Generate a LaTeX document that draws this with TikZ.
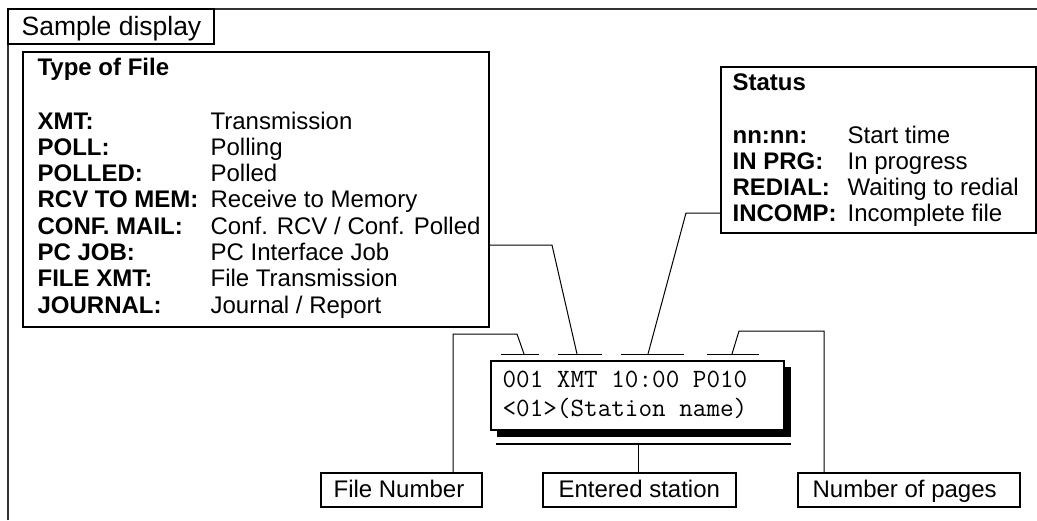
\documentclass[tikz,border=0pt]{standalone}
\usepackage{fontspec}
\setmainfont{Liberation Sans}
\begin{document}
\begin{tikzpicture}[x=1pt,y=-1pt, line width=1.2pt,
  frame/.style={draw, inner sep=0pt, outer sep=0pt, anchor=north west},
  lbl/.style={anchor=base west, inner sep=0pt, font=\fontsize{24}{27}\selectfont},
  key/.style={anchor=base west, inner sep=0pt, font=\fontsize{24}{27}\selectfont\bfseries},
  mono/.style={anchor=base west, inner sep=0pt, font=\ttfamily\fontsize{26.4}{28}\selectfont},
  link/.style={draw, line width=1pt},
  tick/.style={draw, line width=1pt}]
\useasboundingbox (0,0) rectangle (1037,520);

% outer frame (top and left only)
\draw[line width=1.6pt, black!80] (8,520) -- (8,9) -- (1037,9);

% Sample display tab
\node[frame, minimum width=206pt, minimum height=35pt] (sample) at (8,9) {};
\node[lbl, font=\fontsize{26.5}{29}\selectfont] (sampletxt) at (21,35) {Sample display};

% Type of File box
\node[frame, minimum width=466pt, minimum height=275pt] (typebox) at (23,52) {};
\node[key] (typetitle) at (37,75) {Type of File};
\foreach \k/\v [count=\i from 0] in {{XMT:}/{Transmission}, {POLL:}/{Polling}, {POLLED:}/{Polled}, {RCV TO MEM:}/{Receive to Memory}, {CONF. MAIL:}/{Conf. RCV / Conf. Polled}, {PC JOB:}/{PC Interface Job}, {FILE XMT:}/{File Transmission}, {JOURNAL:}/{Journal / Report}}{
  \node[key] (tk\i) at (37,129+26.3*\i) {\k};
  \node[lbl] (tv\i) at (210,129+26.3*\i) {\v};
}

% Status box
\node[frame, minimum width=315pt, minimum height=166pt] (statbox) at (721,67) {};
\node[key] (stattitle) at (732,90) {Status};
\foreach \k/\v [count=\i from 0] in {{nn:nn:}/{Start time}, {IN PRG:}/{In progress}, {REDIAL:}/{Waiting to redial}, {INCOMP:}/{Incomplete file}}{
  \node[key] (sk\i) at (732,143+26.3*\i) {\k};
  \node[lbl] (sv\i) at (847,143+26.3*\i) {\v};
}

% Display with shadow
\fill (497,367) rectangle (791,437);
\node[frame, fill=white, minimum width=293pt, minimum height=69pt] (disp) at (491,361) {};
\node[mono] (line1) at (502,387) {001 XMT 10:00 P010};
\node[mono] (line2) at (502,416) {<01>(Station name)};
\coordinate (ulA) at (496,444);
\coordinate (ulB) at (791,444);
\draw[line width=2pt] (ulA) -- (ulB);

% ticks over the display fields
\coordinate (t1a) at (501,354); \coordinate (t1b) at (539,354);
\coordinate (t2a) at (558,354); \coordinate (t2b) at (602,354);
\coordinate (t3a) at (621,354); \coordinate (t3b) at (684,354);
\coordinate (t4a) at (707,354); \coordinate (t4b) at (759,354);
\draw[tick] (t1a) -- (t1b);
\draw[tick] (t2a) -- (t2b);
\draw[tick] (t3a) -- (t3b);
\draw[tick] (t4a) -- (t4b);

% bottom label boxes
\node[frame, minimum width=161pt, minimum height=34pt] (filenum) at (321,473) {};
\node[lbl] (filenumtxt) at (333,497) {File Number};
\node[frame, minimum width=193pt, minimum height=34pt] (entered) at (543,473) {};
\node[lbl] (enteredtxt) at (558,497) {Entered station};
\node[frame, minimum width=222pt, minimum height=34pt] (pages) at (798,473) {};
\node[lbl] (pagestxt) at (812,497) {Number of pages};

% connectors
\coordinate (c1) at (552,245);
\coordinate (c1e) at (577,354);
\draw[link] (typebox.east |- c1) -- (c1) -- (c1e);

\coordinate (c2) at (686,213);
\coordinate (c2e) at (648,354);
\draw[link] (statbox.west |- c2) -- (c2) -- (c2e);

\coordinate (c3s) at (524,354);
\coordinate (c3a) at (517,334);
\coordinate (c3b) at (453,334);
\draw[link] (c3s) -- (c3a) -- (c3b) -- (c3b |- filenum.north);

\coordinate (c4s) at (732,354);
\coordinate (c4a) at (739,331);
\coordinate (c4b) at (824,331);
\draw[link] (c4s) -- (c4a) -- (c4b) -- (c4b |- pages.north);

\coordinate (c5) at (638,444);
\draw[link] (c5) -- (c5 |- entered.north);
\end{tikzpicture}
\end{document}
